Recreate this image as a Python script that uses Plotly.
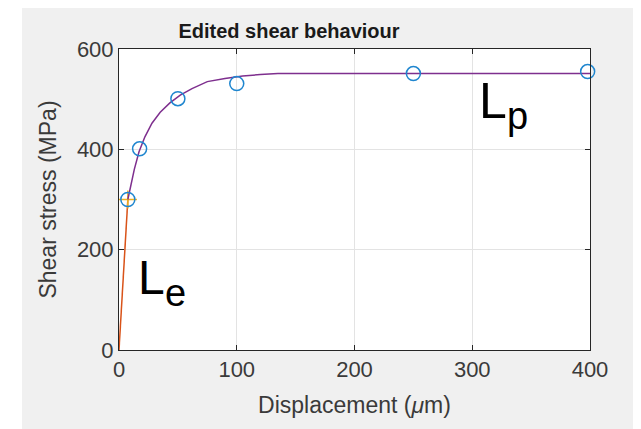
import plotly.graph_objects as go

# Data
elastic_x = [0, 7.5]
elastic_y = [0, 300]

plastic_x = [7.5, 10, 13, 17, 22, 28, 35, 43, 52, 62, 75, 90, 105, 120, 135, 400]
plastic_y = [300, 330, 360, 395, 425, 452, 474, 492, 508, 521, 535, 541, 546, 549, 551, 551]

points_x = [7.5, 17.5, 50, 100, 250, 398]
points_y = [300, 401, 501, 531, 551, 555]

x_ticks = [0, 100, 200, 300, 400]
y_ticks = [0, 200, 400, 600]

title = "Edited shear behaviour"
x_title = "Displacement (<i>μ</i>m)"
y_title = "Shear stress (MPa)"

FONT = "Liberation Sans, Arial, Helvetica, sans-serif"
# page has an 8px body margin; figure placed at (8, 8)
OFF = 8
L, R, T, B = 119 - OFF, 51, 49 - OFF, 79
W, H = 641 - OFF, 429 - OFF
pw, ph = W - L - R, H - T - B

def px2paper_x(px):  # page pixel -> paper
    return (px - OFF - L) / pw

def px2paper_y(py):
    return (H - B - (py - OFF)) / ph

fig = go.Figure()

fig.add_trace(go.Scatter(x=elastic_x, y=elastic_y, mode="lines",
                         line=dict(color="#D95319", width=1.5), showlegend=False))
fig.add_trace(go.Scatter(x=[elastic_x[-1]], y=[elastic_y[-1]], mode="markers",
                         marker=dict(symbol="cross-thin", size=13,
                                     line=dict(color="#EDB120", width=1.5)),
                         showlegend=False))
fig.add_trace(go.Scatter(x=plastic_x, y=plastic_y, mode="lines",
                         line=dict(color="#7E2F8E", width=1.5), showlegend=False))
fig.add_trace(go.Scatter(x=points_x, y=points_y, mode="markers", cliponaxis=False,
                         marker=dict(symbol="circle-open", size=14, color="#1f86cf",
                                     line=dict(color="#1f86cf", width=1.5)),
                         showlegend=False))

ann_font = dict(family=FONT, color="black")
annotations = [
    dict(x=304.9, y=497, text="L", font=dict(size=50, **ann_font)),
    dict(x=328.9, y=466.6, text="p", font=dict(size=38, **ann_font)),
    dict(x=14.9, y=145, text="L", font=dict(size=48, **ann_font)),
    dict(x=37.8, y=113.6, text="e", font=dict(size=38, **ann_font)),
]
for a in annotations:
    a.update(xref="x", yref="y", xanchor="left", yanchor="middle", showarrow=False,
             borderpad=0)

shapes = [
    dict(type="rect", xref="paper", yref="paper", layer="below",
         x0=px2paper_x(22), x1=px2paper_x(660), y0=px2paper_y(440), y1=px2paper_y(0),
         fillcolor="#f0f0f0", line=dict(width=0)),
    dict(type="rect", xref="paper", yref="paper", layer="below",
         x0=0, x1=1, y0=0, y1=1, fillcolor="white", line=dict(width=0)),
]

axis_common = dict(showline=True, linecolor="#262626", linewidth=1, mirror="ticks",
                   ticks="inside", ticklen=5, tickcolor="#262626", tickwidth=1,
                   showgrid=True, gridcolor="#e3e3e3", gridwidth=1, zeroline=False,
                   tickfont=dict(family=FONT, size=22, color="#3a3a3a"))

fig.update_layout(
    width=W, height=H,
    margin=dict(l=L, r=R, t=T, b=B, autoexpand=False),
    paper_bgcolor="white", plot_bgcolor="white",
    title=dict(text="<b>" + title + "</b>", x=px2paper_x(289), xref="paper", xanchor="center",
               y=1 - (31 - OFF) / H, yanchor="middle",
               font=dict(family=FONT, size=20, color="#1a1a1a")),
    xaxis=dict(range=[0, 400], tickvals=x_ticks,
               title=dict(text=x_title, font=dict(family=FONT, size=23, color="#3a3a3a"), standoff=15),
               **axis_common),
    yaxis=dict(range=[0, 600], tickvals=y_ticks,
               title=dict(text=y_title, font=dict(family=FONT, size=23, color="#3a3a3a"), standoff=13),
               **axis_common),
    annotations=annotations,
    shapes=shapes,
)

fig.write_html("out.html")
